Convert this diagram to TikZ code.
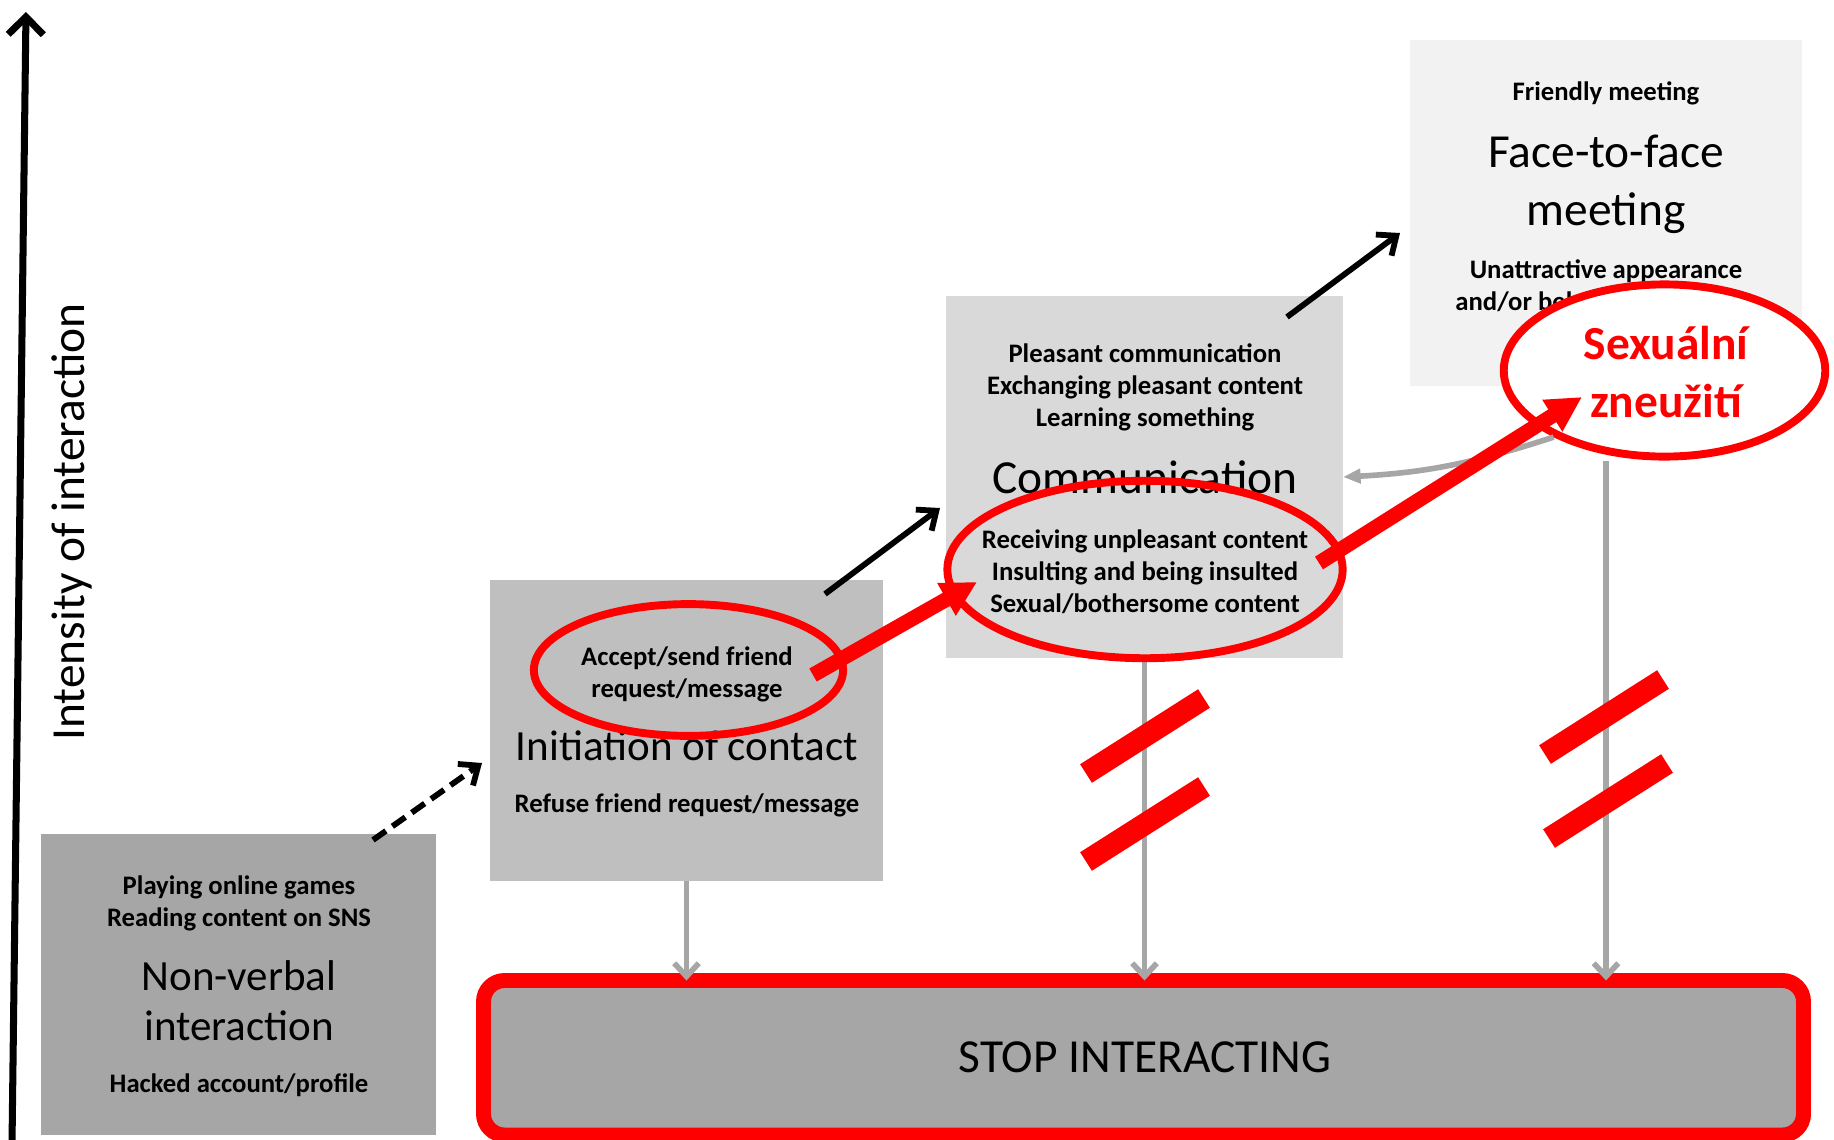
\documentclass[tikz,border=0pt]{standalone}
\usepackage{fontspec}
\setmainfont{Carlito}
\usetikzlibrary{arrows.meta, shapes.geometric, fit}
\definecolor{grayA}{HTML}{A6A6A6}
\definecolor{grayB}{HTML}{BFBFBF}
\definecolor{grayC}{HTML}{D9D9D9}
\definecolor{grayD}{HTML}{F2F2F2}
\tikzset{stage/.style={inner sep=0pt, outer sep=0pt},
         smalltext/.style={font=\fontsize{15.2}{18.2}\selectfont\bfseries, align=center, anchor=base, inner sep=0pt},
         bigtext/.style={font=\fontsize{27}{33}\selectfont, align=center, anchor=base, inner sep=0pt},
         midtext/.style={font=\fontsize{24.5}{28.4}\selectfont, align=center, anchor=base, inner sep=0pt},
         ring/.style={ellipse, draw=red, line width=4.5pt, inner sep=0pt},
         tostop/.style={draw=grayA, line width=3.2pt, -{Straight Barb[length=7.5pt,width=14pt]}},
         stepup/.style={line width=3.3pt, -{Straight Barb[length=9pt,width=15pt]}},
         abuse/.style={draw=red, line width=8.5pt, -{Triangle[length=20pt,width=20pt]}},
         cut/.style={draw=red, line width=12.5pt},
        }

\begin{document}
\begin{tikzpicture}[x=0.02cm,y=-0.02cm]
        \useasboundingbox (0,0) rectangle (1834,1139);
        \coordinate (a0) at (12,1145);
        \coordinate (a1) at (26,12);
        \draw[line width=4pt, -{Straight Barb[length=10pt,width=20pt]}](a0)--(a1);
        \node[bigtext, anchor=center, rotate=90](axislabel)at(72,522){Intensity of interaction};

        \node[stage, fill=grayA, fit={(41,834)(436,1135)}](nv){};
        \node[stage, fill=grayB, fit={(490,580)(883,881)}](ini){};
        \node[stage, fill=grayC, fit={(946,296)(1343,658)}](com){};
        \node[stage, fill=grayD, fit={(1410,40)(1802,386)}](f2f){};
        \node[stage, draw=red, fill=grayA, line width=8.5pt, rounded corners=12pt,
              fit={(483.5,980.5)(1803.5,1135)}](stop){};
        \node[bigtext](stoptext)at(1145,1072){STOP INTERACTING};

        % multi-line texts sit on the baseline of their last line
        \node[smalltext](nvtop)at(239,926){Playing online games\\Reading content on SNS};
        \node[midtext](nvname)at(239,1040){Non-verbal\\interaction};
        \node[smalltext](nvlow)at(239,1092){Hacked account/profile};

        \node[smalltext](initop)at(687,697){Accept/send friend\\request/message};
        \node[midtext](ininame)at(687,760){Initiation of contact};
        \node[smalltext](inilow)at(687,812){Refuse friend request/message};

        \node[smalltext](comtop)at(1145,426){Pleasant communication\\Exchanging pleasant content\\Learning something};
        \node[bigtext](comname)at(1145,493){Communication};
        \node[smalltext](comlow)at(1145,612){Receiving unpleasant content\\Insulting and being insulted\\Sexual/bothersome content};

        \node[smalltext](f2ftop)at(1606,100){Friendly meeting};
        \node[bigtext](f2fname)at(1606,225){Face-to-face\\meeting};
        \node[smalltext](f2flow)at(1606,278){Unattractive appearance};
        \node[smalltext, anchor=base west](f2fmore)at(1455,310){and/or behaviour};

        \draw[tostop](ini.south)--(ini.south |- stop.north);
        \draw[tostop](com.south)--(com.south |- stop.north);

        \node[ring, minimum width=176pt, minimum height=75pt](inring)at(688.5,670){};
        \node[ring, minimum width=225pt, minimum height=101pt](comring)at(1145,569.5){};
        \node[ring, fill=white, minimum width=183pt, minimum height=98pt](sx)at(1664.5,370.5){};
        \node[bigtext, text=red, font=\fontsize{27}{33}\selectfont\bfseries](sxtext)at(1666,417){Sexuální\\zneužití};

        \draw[tostop](f2f.south |- sx.south)--(f2f.south |- stop.north);
        \draw[draw=grayA, line width=3.2pt, -{Triangle[length=10pt,width=8pt]}](sx.211) to[out=198,in=3] (com.east);

        \coordinate (d0) at (373,840);
        \coordinate (d1) at (482,763);
        \coordinate (b0) at (825,594);
        \coordinate (b1) at (940,508);
        \coordinate (c0) at (1287,317);
        \coordinate (c1) at (1400,233);
        \draw[stepup, dash pattern=on 9pt off 4.5pt](d0)--(d1);
        \draw[stepup](b0)--(b1);
        \draw[stepup](c0)--(c1);

        \coordinate (r0) at (813,675);
        \coordinate (r1) at (977,582);
        \coordinate (s0) at (1319,563);
        \coordinate (s1) at (1582,397);
        \draw[abuse](r0)--(r1);
        \draw[abuse](s0)--(s1);

        \foreach \x/\y in {1145/736, 1145/824, 1604/717, 1608/801}
            \draw[cut](\x-59,\y+37.5)--(\x+59,\y-37.5);
    \end{tikzpicture}
\end{document}
